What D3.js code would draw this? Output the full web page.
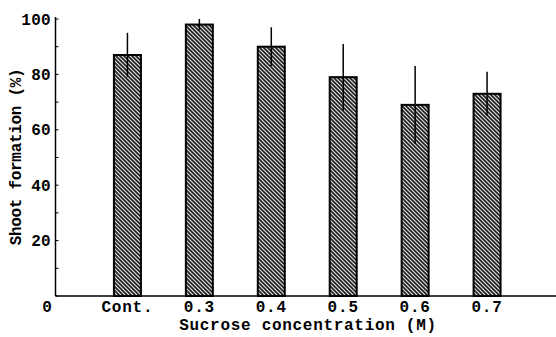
<!DOCTYPE html>
<html><head><meta charset="utf-8">
<script src="https://cdn.jsdelivr.net/npm/d3@7"></script>
<style>body{margin:0;background:#fff}svg{display:block}</style>
</head><body>
<script>
const categories = ["Cont.", "0.3", "0.4", "0.5", "0.6", "0.7"];
const values = [87, 98, 90, 79, 69, 73];
const errors = [8, 2, 7, 12, 14, 8];
const yTicks = [0, 20, 40, 60, 80, 100];
const yMinorTicks = [10, 30, 50, 70, 90];

const W = 556, H = 337;
const svg = d3.select("body").append("svg").attr("width", W).attr("height", H);
const font = "'Liberation Mono', 'DejaVu Sans Mono', monospace";

const defs = svg.append("defs");
const pat = defs.append("pattern").attr("id", "hatch").attr("patternUnits", "userSpaceOnUse")
  .attr("width", 4).attr("height", 4);
pat.append("rect").attr("width", 4).attr("height", 4).attr("fill", "#909090");
[["#1e1e1e", 1.3, 0], ["#e0e0e0", 0.9, 2]].forEach(([c, w, o]) => {
  pat.append("path").attr("d", `M${o-8},0 L${o},8 M${o-4},0 L${o+4},8 M${o},0 L${o+8},8 M${o-4},-4 L${o+4},4 M${o},-4 L${o+8},4`)
    .attr("stroke", c).attr("stroke-width", w);
});

const x0 = 55.5, xEnd = 559;
const x = d3.scaleLinear().domain([0, 7]).range([x0, xEnd]);
const y = d3.scaleLinear().domain([0, 100]).range([296, 19]);
const bw = 27;

// axes
svg.append("line").attr("x1", x0).attr("x2", x0).attr("y1", y(100) - 2).attr("y2", y(0))
  .attr("stroke", "#000").attr("stroke-width", 1.5);
svg.append("line").attr("x1", x0).attr("x2", W).attr("y1", y(0)).attr("y2", y(0))
  .attr("stroke", "#000").attr("stroke-width", 1.5);
svg.selectAll(".mt").data(yTicks.concat(yMinorTicks)).enter().append("line")
  .attr("x1", x0).attr("x2", x0 + 3).attr("y1", d => y(d)).attr("y2", d => y(d))
  .attr("stroke", "#000").attr("stroke-width", 1);
svg.selectAll(".yl").data(yTicks.filter(d => d > 0)).enter().append("text")
  .attr("x", 51).attr("y", d => y(d) + 5.5).attr("text-anchor", "end")
  .attr("font-family", font).attr("font-weight", "bold").attr("font-size", 16)
  .attr("letter-spacing", 0.3).text(d => d);
svg.append("text").attr("x", 47).attr("y", 312).attr("text-anchor", "middle")
  .attr("font-family", font).attr("font-weight", "bold").attr("font-size", 16).text("0");

// bars
const g = svg.append("g");
categories.forEach((c, i) => {
  const cx = x(i + 1);
  g.append("rect").attr("x", cx - bw / 2).attr("y", y(values[i])).attr("width", bw)
    .attr("height", y(0) - y(values[i])).attr("fill", "url(#hatch)")
    .attr("stroke", "#000").attr("stroke-width", 2);
  g.append("line").attr("x1", cx).attr("x2", cx).attr("y1", y(values[i] + errors[i]))
    .attr("y2", y(values[i] - errors[i])).attr("stroke", "#000").attr("stroke-width", 1.5);
  svg.append("text").attr("x", cx).attr("y", 312).attr("text-anchor", "middle")
    .attr("font-family", font).attr("font-weight", "bold").attr("font-size", 16)
    .attr("letter-spacing", 0.8).text(c);
});

svg.append("text").attr("x", 308).attr("y", 330).attr("text-anchor", "middle")
  .attr("font-family", font).attr("font-weight", "bold").attr("font-size", 16)
  .attr("letter-spacing", 0.7).text("Sucrose concentration (M)");
svg.append("text").attr("transform", "translate(21,157) rotate(-90)").attr("text-anchor", "middle")
  .attr("font-family", font).attr("font-weight", "bold").attr("font-size", 16)
  .attr("letter-spacing", -0.3).text("Shoot formation (%)");
</script>
</body></html>
